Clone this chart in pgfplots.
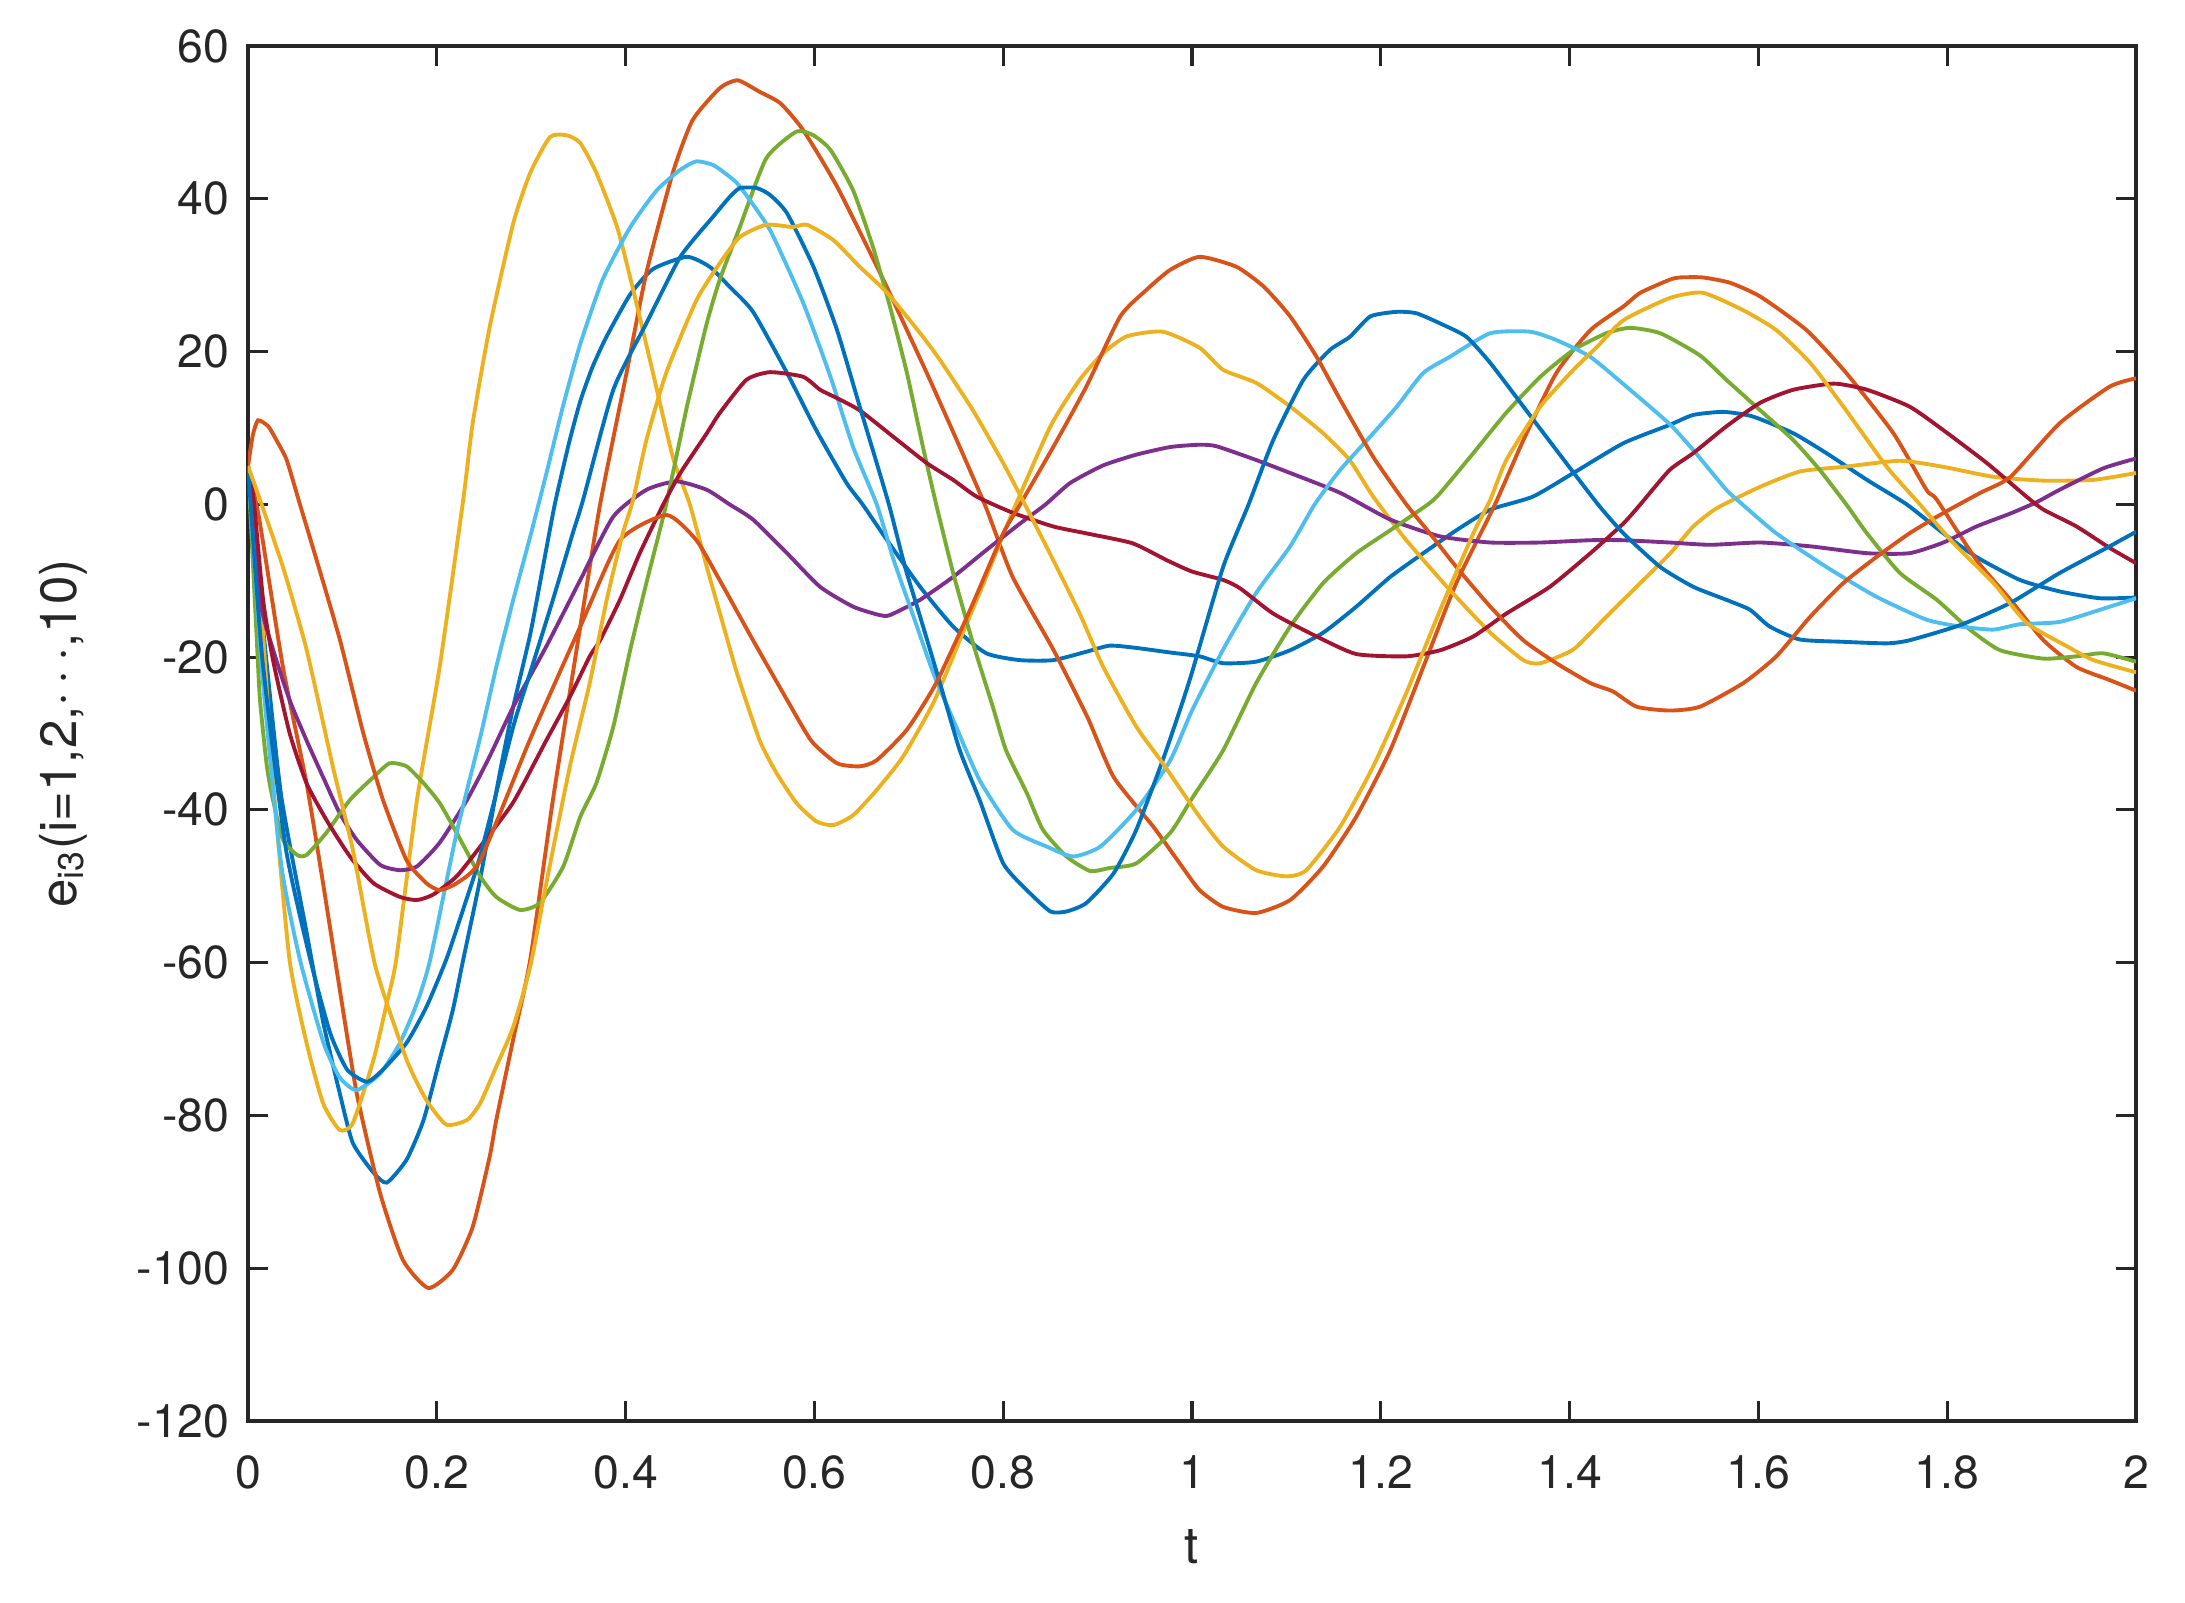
\documentclass[border=0pt]{standalone}
\usepackage{fontspec}
\setmainfont{TeX Gyre Heros}
\usepackage{pgfplots}
\pgfplotsset{compat=1.18}
\definecolor{mblue}{rgb}{0,0.447,0.741}
\definecolor{morange}{rgb}{0.85,0.325,0.098}
\definecolor{myellow}{rgb}{0.929,0.694,0.125}
\definecolor{mpurple}{rgb}{0.494,0.184,0.556}
\definecolor{mgreen}{rgb}{0.466,0.674,0.188}
\definecolor{mlblue}{rgb}{0.301,0.745,0.933}
\definecolor{mdred}{rgb}{0.635,0.078,0.184}
\definecolor{axgray}{rgb}{0.15,0.15,0.15}
\begin{document}
\begin{tikzpicture}
\begin{axis}[name=ax,
  scale only axis, width=188.8mm, height=137.5mm,
  xmin=0, xmax=2, ymin=-120, ymax=60,
  xtick={0,0.2,0.4,0.6,0.8,1,1.2,1.4,1.6,1.8,2},
  xticklabels={0,0.2,0.4,0.6,0.8,1,1.2,1.4,1.6,1.8,2},
  ytick={-120,-100,-80,-60,-40,-20,0,20,40,60},
  yticklabels={-120,-100,-80,-60,-40,-20,0,20,40,60},
  tick align=inside, major tick length=2mm,
  axis line style={axgray, line width=0.9pt},
  every tick/.style={axgray, line width=0.9pt},
  tick label style={font=\fontsize{13.2}{15}\selectfont, text=axgray},
  xticklabel style={yshift=-2.2mm},
  yticklabel style={xshift=-0.6mm},
  /pgf/number format/assume math mode=true,
  label style={font=\fontsize{14.5}{17}\selectfont, text=axgray},
  xlabel={t},
  ylabel={e\textsubscript{i3}(i=1,2,$\cdots$,10)},
  xlabel style={at={(axis description cs:0.5,-0.0916)}, anchor=center},
  ylabel style={at={(axis description cs:-0.098,0.5)}, anchor=center},
  every axis plot/.append style={line width=1.1pt, smooth, tension=0.35},
]
% blue 1
\addplot[mblue] coordinates {(0,5) (0.015,-15) (0.035,-38) (0.062,-56) (0.08,-68) (0.097,-77) (0.111,-83.6) (0.133,-87.5) (0.147,-88.8) (0.168,-85.8) (0.186,-80.6) (0.203,-72.7) (0.217,-66.2) (0.228,-59.6) (0.246,-49) (0.267,-35) (0.281,-26.5) (0.299,-17) (0.312,-8.5) (0.325,0) (0.34,8) (0.352,13.5) (0.365,18) (0.38,22) (0.405,27.5) (0.429,30.8) (0.465,32.4) (0.489,31.1) (0.51,28.5) (0.535,25.2) (0.571,17.2) (0.602,9.7) (0.634,2.8) (0.651,0) (0.677,-4.7) (0.712,-10.8) (0.747,-16) (0.782,-19.5) (0.818,-20.4) (0.853,-20.4) (0.888,-19.3) (0.913,-18.5) (0.941,-18.8) (0.977,-19.4) (1.008,-19.9) (1.033,-20.8) (1.068,-20.6) (1.104,-19.1) (1.139,-16.8) (1.174,-13.4) (1.21,-9.5) (1.245,-6.4) (1.28,-3.4) (1.316,-0.7) (1.361,1) (1.404,4.1) (1.457,8) (1.506,10.4) (1.531,11.7) (1.563,12.1) (1.594,11.5) (1.637,9.3) (1.672,6.7) (1.715,3.2) (1.757,0) (1.796,-3.8) (1.831,-6.9) (1.877,-9.9) (1.919,-11.4) (1.962,-12.3) (2,-12.2)};
% orange 1
\addplot[morange] coordinates {(0,5) (0.012,-2) (0.037,-21.3) (0.062,-36.5) (0.0795,-49.6) (0.094,-61) (0.115,-77) (0.14,-90.2) (0.164,-98.9) (0.191,-102.6) (0.217,-100.2) (0.238,-94.6) (0.256,-85.4) (0.263,-80.6) (0.281,-70) (0.299,-59.6) (0.323,-38.7) (0.352,-16) (0.373,0) (0.401,17.2) (0.422,30.3) (0.45,43.4) (0.471,50.3) (0.5,54.5) (0.519,55.5) (0.542,54) (0.564,52.5) (0.588,49) (0.624,41.6) (0.673,29.4) (0.719,17.2) (0.754,7.5) (0.782,-0.5) (0.81,-9.5) (0.853,-19) (0.889,-27.8) (0.917,-35.7) (0.959,-42.2) (0.987,-47) (1.008,-50.5) (1.033,-52.7) (1.068,-53.5) (1.104,-51.8) (1.139,-47.4) (1.174,-40.9) (1.21,-32.2) (1.245,-21.3) (1.28,-10.3) (1.321,0) (1.351,8.4) (1.386,17.2) (1.422,22.8) (1.457,25.9) (1.475,27.7) (1.506,29.4) (1.517,29.7) (1.541,29.7) (1.57,29) (1.602,27.2) (1.651,22.8) (1.693,17.2) (1.743,9.3) (1.778,1.9) (1.789,0.6) (1.831,-7.3) (1.867,-12.5) (1.902,-17.8) (1.937,-21.3) (1.972,-23) (2,-24.4)};
% yellow 1
\addplot[myellow] coordinates {(0,5) (0.012,-10) (0.027,-37) (0.044,-59.6) (0.062,-70.5) (0.0795,-78.4) (0.097,-81.9) (0.111,-81) (0.133,-72.7) (0.147,-65.3) (0.157,-59.6) (0.179,-38.7) (0.203,-21.3) (0.228,0.6) (0.238,10.6) (0.256,23.2) (0.281,36.8) (0.299,43.4) (0.32,48.1) (0.338,48.3) (0.352,47.3) (0.369,43.4) (0.391,36.3) (0.408,28.1) (0.429,17.2) (0.45,6.2) (0.468,0) (0.486,-8.2) (0.5,-14.3) (0.518,-22.1) (0.542,-30.9) (0.56,-35.2) (0.581,-39.1) (0.602,-41.5) (0.62,-42) (0.641,-40.7) (0.666,-37.4) (0.694,-33) (0.726,-26) (0.754,-17.8) (0.782,-9.5) (0.81,-1) (0.85,10.2) (0.881,16.3) (0.906,19.8) (0.931,22) (0.969,22.6) (1.008,20.5) (1.033,17.6) (1.068,15.9) (1.104,12.8) (1.139,9.3) (1.167,5.8) (1.192,1) (1.227,-4.7) (1.273,-11.2) (1.316,-16.8) (1.351,-20.4) (1.369,-20.8) (1.404,-19) (1.439,-14.7) (1.475,-10.3) (1.506,-6.5) (1.531,-2.9) (1.556,-0.5) (1.602,2.3) (1.644,4.3) (1.69,4.9) (1.75,5.7) (1.796,4.9) (1.849,3.6) (1.902,3.1) (1.955,3.2) (2,4.1)};
% purple
\addplot[mpurple] coordinates {(0,5) (0.0127,-12.5) (0.0265,-19) (0.044,-25.6) (0.062,-30.9) (0.0795,-35.7) (0.097,-40.4) (0.115,-43.9) (0.14,-47.2) (0.161,-47.9) (0.179,-47.4) (0.203,-44.3) (0.232,-38.7) (0.256,-33) (0.281,-26.5) (0.316,-18.6) (0.352,-9.9) (0.387,-1.6) (0.422,1.9) (0.454,3) (0.486,1.9) (0.51,0) (0.535,-2) (0.571,-6.4) (0.606,-10.8) (0.641,-13.4) (0.669,-14.5) (0.68,-14.5) (0.712,-12.5) (0.747,-9.5) (0.782,-6) (0.818,-2.5) (0.845,0) (0.871,2.8) (0.906,5.1) (0.941,6.5) (0.977,7.5) (1.008,7.8) (1.026,7.6) (1.068,5.8) (1.104,4.1) (1.157,1.5) (1.21,-2) (1.263,-4.2) (1.316,-5) (1.369,-5) (1.422,-4.7) (1.457,-4.7) (1.506,-5) (1.549,-5.3) (1.602,-5) (1.655,-5.5) (1.715,-6.4) (1.76,-6.4) (1.796,-5) (1.831,-2.9) (1.867,-1.2) (1.895,0.3) (1.919,1.9) (1.965,4.7) (2,6)};
% green
\addplot[mgreen] coordinates {(0,5) (0.009,-16.9) (0.0127,-25.6) (0.02,-34.3) (0.0265,-38.7) (0.037,-43.9) (0.052,-45.9) (0.062,-45.9) (0.083,-43) (0.108,-38.7) (0.133,-35.7) (0.15,-33.9) (0.168,-34.3) (0.186,-36.5) (0.203,-39.1) (0.221,-43) (0.246,-48.7) (0.263,-51.4) (0.288,-53.1) (0.309,-52.2) (0.334,-47.4) (0.352,-40.9) (0.369,-36.5) (0.387,-29.1) (0.405,-19) (0.422,-10.3) (0.443,0) (0.465,12.8) (0.486,23.7) (0.5,29.5) (0.521,36.3) (0.549,45.3) (0.581,48.8) (0.599,48.3) (0.617,46.4) (0.641,41.1) (0.662,33.7) (0.68,25.9) (0.698,17.2) (0.715,7.5) (0.729,0) (0.747,-9) (0.768,-18.2) (0.789,-26.5) (0.803,-32.2) (0.825,-37.8) (0.842,-42.6) (0.867,-46.1) (0.892,-48) (0.913,-47.6) (0.941,-47) (0.977,-43) (1,-38.5) (1.033,-32.2) (1.068,-23.4) (1.104,-16) (1.139,-10.3) (1.174,-6.4) (1.21,-3.4) (1.25,0) (1.263,1.5) (1.298,6.7) (1.333,12) (1.369,16.7) (1.404,20.2) (1.439,22.4) (1.464,23.1) (1.496,22.4) (1.538,19.5) (1.566,16.3) (1.602,12.3) (1.637,8.4) (1.665,4.5) (1.693,0) (1.715,-3.8) (1.75,-9) (1.789,-12.5) (1.824,-16.4) (1.856,-19.1) (1.902,-20.2) (1.937,-19.9) (1.965,-19.5) (2,-20.6)};
% light blue
\addplot[mlblue] coordinates {(0,5) (0.015,-22) (0.035,-47) (0.055,-59.6) (0.08,-70.5) (0.097,-75) (0.115,-76.7) (0.14,-74.5) (0.161,-70.5) (0.179,-65.3) (0.193,-59.6) (0.221,-43) (0.246,-30.5) (0.263,-21.3) (0.281,-12.5) (0.299,-4.2) (0.316,4) (0.334,13) (0.352,21) (0.376,29.5) (0.405,36.3) (0.433,41.1) (0.458,43.8) (0.475,44.9) (0.493,44.4) (0.51,42.9) (0.521,41.6) (0.553,35.9) (0.588,26.4) (0.617,16.7) (0.641,7.5) (0.666,0) (0.684,-7.3) (0.705,-14.7) (0.726,-22.1) (0.747,-28.2) (0.775,-36.1) (0.81,-42.6) (0.846,-44.8) (0.874,-46.1) (0.903,-44.8) (0.941,-40) (0.977,-33.5) (1,-27) (1.033,-19) (1.068,-11.6) (1.104,-5.5) (1.13,0) (1.157,4.5) (1.192,9.3) (1.217,12.8) (1.245,17.2) (1.273,19.3) (1.316,22.4) (1.358,22.6) (1.386,21.5) (1.422,19.3) (1.464,15) (1.506,10.5) (1.531,7.1) (1.566,1.9) (1.583,0) (1.619,-3.8) (1.672,-8.2) (1.725,-12.1) (1.778,-15.1) (1.814,-16) (1.849,-16.4) (1.877,-15.7) (1.919,-15.4) (1.962,-13.8) (2,-12.3)};
% dark red
\addplot[mdred] coordinates {(0,5) (0.006,0.6) (0.016,-12.5) (0.0265,-20.4) (0.044,-29.9) (0.062,-36.5) (0.083,-41.3) (0.108,-46.1) (0.133,-49.6) (0.161,-51.4) (0.179,-51.8) (0.196,-51.1) (0.221,-48.7) (0.246,-44.8) (0.281,-39) (0.316,-30.9) (0.341,-25.2) (0.362,-19.9) (0.373,-17.8) (0.394,-12.5) (0.415,-6.4) (0.44,0) (0.458,4.1) (0.486,9.3) (0.5,12) (0.528,16.3) (0.553,17.3) (0.588,16.7) (0.606,15) (0.624,13.9) (0.648,12.3) (0.683,8.9) (0.719,5.4) (0.747,3.2) (0.772,1) (0.81,-1.1) (0.853,-2.9) (0.888,-3.8) (0.937,-5.1) (0.973,-7.3) (1,-8.8) (1.033,-9.9) (1.051,-11) (1.086,-14.3) (1.132,-17.3) (1.174,-19.6) (1.227,-19.9) (1.263,-19.1) (1.298,-17.3) (1.333,-14.3) (1.379,-10.8) (1.422,-6.4) (1.457,-2.5) (1.475,0) (1.506,4.5) (1.531,6.7) (1.566,10.2) (1.602,13.3) (1.637,15) (1.68,15.8) (1.715,15) (1.76,12.8) (1.796,9.7) (1.842,5.4) (1.884,1) (1.902,-0.7) (1.937,-2.9) (1.972,-5.7) (2,-7.7)};
% blue 2
\addplot[mblue] coordinates {(0,5) (0.015,-20) (0.04,-45) (0.066,-59.6) (0.087,-69.2) (0.105,-74) (0.126,-75.6) (0.143,-74) (0.168,-70.5) (0.189,-65.8) (0.21,-59.6) (0.228,-53) (0.246,-46) (0.281,-29.1) (0.299,-22) (0.323,-12.5) (0.344,-3.8) (0.355,0.6) (0.387,15) (0.422,23.7) (0.458,32.4) (0.493,37.7) (0.51,40.2) (0.521,41.4) (0.539,41.4) (0.553,40.5) (0.571,38.1) (0.599,31.1) (0.624,22.8) (0.648,12.8) (0.666,5.4) (0.68,-0.5) (0.696,-8.2) (0.712,-14.7) (0.733,-23.4) (0.754,-32.2) (0.775,-38.7) (0.8,-47) (0.825,-50.5) (0.85,-53.3) (0.867,-53.3) (0.888,-52.2) (0.917,-48.3) (0.941,-42.6) (0.969,-33.5) (0.987,-27) (1,-22) (1.033,-8.2) (1.06,0) (1.086,8.4) (1.118,16.3) (1.146,20.2) (1.167,21.9) (1.189,24.6) (1.217,25.2) (1.238,25) (1.266,23.5) (1.291,21.9) (1.316,18.5) (1.351,12.8) (1.386,7.1) (1.43,0) (1.457,-3.8) (1.496,-8.2) (1.531,-10.8) (1.566,-12.5) (1.591,-13.8) (1.612,-16) (1.644,-17.7) (1.69,-18) (1.736,-18.2) (1.76,-17.8) (1.814,-15.8) (1.867,-12.9) (1.919,-9) (1.972,-5.5) (2,-3.6)};
% orange 2
\addplot[morange] coordinates {(0,5) (0.005,9) (0.0106,11) (0.0215,10.2) (0.031,8.2) (0.041,5.8) (0.055,0) (0.0727,-7.3) (0.0975,-17.8) (0.122,-29.9) (0.143,-38.7) (0.168,-46.6) (0.189,-49.6) (0.203,-50.5) (0.221,-49.6) (0.246,-46.6) (0.2987,-30.8) (0.352,-16) (0.394,-4.7) (0.4435,-1.4) (0.475,-4.7) (0.5,-10) (0.535,-17.8) (0.571,-25.6) (0.597,-31) (0.624,-33.9) (0.648,-34.3) (0.666,-33.5) (0.698,-29.5) (0.729,-23.4) (0.765,-13.8) (0.8,-3.8) (0.818,0) (0.853,7.5) (0.888,15.4) (0.924,24.6) (0.952,28.1) (0.977,30.7) (1.008,32.4) (1.047,31.1) (1.076,28.5) (1.104,24.6) (1.132,19.3) (1.157,13.7) (1.192,6.2) (1.227,0) (1.252,-3.8) (1.28,-8.2) (1.316,-13.4) (1.351,-17.8) (1.386,-20.8) (1.422,-23.4) (1.446,-24.5) (1.471,-26.5) (1.506,-27) (1.538,-26.5) (1.584,-23.4) (1.619,-19.9) (1.655,-14.7) (1.69,-10.3) (1.725,-6.9) (1.76,-3.8) (1.795,-1.2) (1.835,1.5) (1.867,3.6) (1.919,10.6) (1.972,15.4) (2,16.5)};
% yellow 2
\addplot[myellow] coordinates {(0,5) (0.0127,0.6) (0.037,-8.2) (0.062,-19) (0.09,-34.4) (0.111,-45.2) (0.135,-60.5) (0.168,-72.7) (0.189,-78) (0.21,-81.2) (0.232,-80.6) (0.246,-78.4) (0.263,-73.6) (0.281,-68.4) (0.299,-60.5) (0.316,-49.6) (0.341,-34.3) (0.362,-23.4) (0.38,-12.5) (0.397,-3.8) (0.408,0.6) (0.422,8.4) (0.443,17.2) (0.475,26.7) (0.5,31.6) (0.521,35) (0.549,36.6) (0.577,36.3) (0.592,36.6) (0.62,34.6) (0.648,31.1) (0.677,27.7) (0.712,22.4) (0.733,18.9) (0.768,12.3) (0.8,5.4) (0.825,-0.5) (0.853,-7.3) (0.881,-14.3) (0.906,-21.3) (0.941,-29.1) (0.969,-33.9) (1.008,-40.9) (1.033,-44.8) (1.068,-47.9) (1.1,-48.7) (1.121,-47.9) (1.157,-42.2) (1.192,-34.3) (1.227,-24.7) (1.263,-13.8) (1.298,-3.8) (1.316,0.6) (1.333,5.8) (1.369,12.8) (1.404,17.6) (1.429,20.6) (1.457,24.1) (1.506,27) (1.541,27.7) (1.584,25.4) (1.619,22.8) (1.655,18.5) (1.69,12.8) (1.736,4.9) (1.771,0) (1.806,-5) (1.849,-10.3) (1.884,-15.5) (1.927,-18.6) (1.955,-20.4) (2,-22)};
\end{axis}
\pgfresetboundingbox
\path ([xshift=-24.8mm,yshift=-18.2mm]ax.south west) rectangle ([xshift=4.9mm,yshift=4.6mm]ax.north east);
\end{tikzpicture}
\end{document}
